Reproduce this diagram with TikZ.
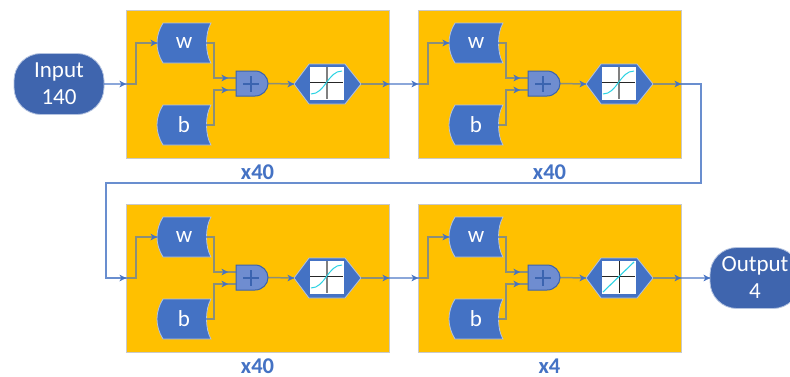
\documentclass[tikz,border=0pt]{standalone}
\usepackage{fontspec}
\setmainfont{Carlito}
\usetikzlibrary{arrows.meta}
\definecolor{mainblue}{HTML}{4472C4}
\definecolor{darkfill}{HTML}{3F65AE}
\definecolor{addfill}{HTML}{6F8DD0}
\definecolor{addline}{HTML}{3A62AC}
\definecolor{softline}{HTML}{B4C3E0}
\definecolor{panelfill}{HTML}{FFC000}
\definecolor{panelline}{HTML}{C9C9C9}
\definecolor{curvecol}{HTML}{2BD3E3}
\tikzset{
  x=1pt,y=-1pt,
  txt/.style={font=\fontsize{23}{27}\selectfont,text=white,align=center,inner sep=0pt},
  panel/.style={draw=panelline,fill=panelfill,line width=1pt,minimum width=263pt,minimum height=148pt,inner sep=0pt,outer sep=0pt},
  terminal/.style={txt,draw=softline,fill=darkfill,line width=.8pt,rounded corners=27pt,minimum width=90pt,minimum height=61pt,outer sep=0pt},
  anchorbox/.style={txt,minimum width=#1,outer sep=0pt},
  shapefill/.style={fill=mainblue,draw=softline,line width=.8pt},
  conn/.style={draw=mainblue,opacity=.62,line width=1.5pt},
  wrap/.style={draw=mainblue,opacity=.8,line width=1.2pt},
  headtip/.style={draw=mainblue,line width=.3pt,-{Stealth[length=6.5pt,width=6.5pt,fill=mainblue]}},
  blocklabel/.style={font=\bfseries\fontsize{22.5}{26}\selectfont,text=mainblue,inner sep=0pt},
}
\newcommand{\tipat}[1]{\draw[headtip] ([xshift=-5pt]#1) -- (#1);}
\newcommand{\storageshape}[3]{%
  \begin{scope}[shift={(0,#2)}]
    \path[shapefill] (163,0) -- (211,0) .. controls (205,10) and (205,30) .. (211,40)
      -- (163,40) .. controls (155,27) and (155,13) .. (163,0) -- cycle;
    \node[anchorbox=54pt,minimum height=40pt] (#1) at (184,20) {\raisebox{-2pt}{#3}};
  \end{scope}}
\newcommand{\sigmoidplot}{%
  \draw[gray,line width=1.8pt] (327,67) -- (327,99);
  \draw[black!85,line width=1pt] (310,82) -- (343,82);
  \draw[curvecol,line width=1pt] (311,94) .. controls (325,94) and (328,71) .. (342,71);}
\newcommand{\linearplot}{%
  \draw[black!85,line width=.9pt] (327,67) -- (327,99);
  \draw[black!85,line width=.9pt] (310,82) -- (343,82);
  \draw[curvecol,line width=1.1pt] (311,98) -- (342,68);}
% #1 id, #2 dx, #3 dy, #4 repeat label, #5 plot
\newcommand{\block}[5]{%
  \begin{scope}[shift={(#2,#3)}]
    \node[panel] (#1p) at (257.5,84) {};
    \node[blocklabel] (#1lab) at (257.5,172) {#4};
    \storageshape{#1w}{23}{w}
    \storageshape{#1b}{105}{b}
    \path[fill=addfill,draw=addline,line width=1pt] (236,71) -- (255,71)
      .. controls (262.5,71) and (268,77) .. (268,83.5)
      .. controls (268,90) and (262.5,96) .. (255,96) -- (236,96) -- cycle;
    \node[minimum width=32pt,minimum height=25pt,inner sep=0pt,outer sep=0pt] (#1a) at (252,83.5) {};
    \draw[addline!85!mainblue,line width=2.8pt] (243,84) -- (259,84) (251,76) -- (251,92);
    \path[shapefill] (294,84) -- (309,64) -- (345,64) -- (361,84) -- (345,104) -- (309,104) -- cycle;
    \node[minimum width=67pt,minimum height=40pt,inner sep=0pt,outer sep=0pt] (#1h) at (327.5,84) {};
    \fill[white] (309.5,66.5) rectangle (344,100);
    #5
    \coordinate (#1j1) at (228,78);
    \coordinate (#1j2) at (228,90);
    \draw[conn] (#1p.west) -- ++(10,0) |- (#1w.west);
    \tipat{#1w.west}
    \draw[conn] ([xshift=-5pt]#1w.east) -- ++(8,0) |- (#1j1) -- (#1a.west |- #1j1);
    \tipat{#1j1}
    \draw[conn] ([xshift=-5pt]#1b.east) -- ++(8,0) |- (#1j2) -- (#1a.west |- #1j2);
    \tipat{#1j2}
    \draw[conn] (#1a.east) -- (#1h.west);
    \tipat{#1h.west}
    \draw[conn] (#1h.east) -- (#1p.east);
    \tipat{#1p.east}
  \end{scope}}
\begin{document}
\begin{tikzpicture}
  \useasboundingbox (0,0) rectangle (790,376);
  \clip (0,0) rectangle (790,376);
  \fill[white] (0,0) rectangle (790,376);
  \block{A}{0}{0}{x40}{\sigmoidplot}
  \block{B}{292}{0}{x40}{\sigmoidplot}
  \block{C}{0}{194}{x40}{\sigmoidplot}
  \block{D}{292}{194}{x4}{\linearplot}
  \node[terminal] (input) at (59,84) {Input\\140};
  \node[terminal] (output) at (755,278) {Output\\4};
  \coordinate (turnA) at (701,183);
  \coordinate (turnB) at (106,183);
  \draw[conn] (input.east) -- (Ap.west);
  \tipat{Ap.west}
  \draw[conn] (Ap.east) -- (Bp.west);
  \tipat{Bp.west}
  \draw[wrap] (Bp.east) -| (turnA) -- (turnB) |- (Cp.west);
  \tipat{Cp.west}
  \draw[conn] (Cp.east) -- (Dp.west);
  \tipat{Dp.west}
  \draw[conn] (Dp.east) -- (output.west);
  \tipat{output.west}
\end{tikzpicture}
\end{document}
